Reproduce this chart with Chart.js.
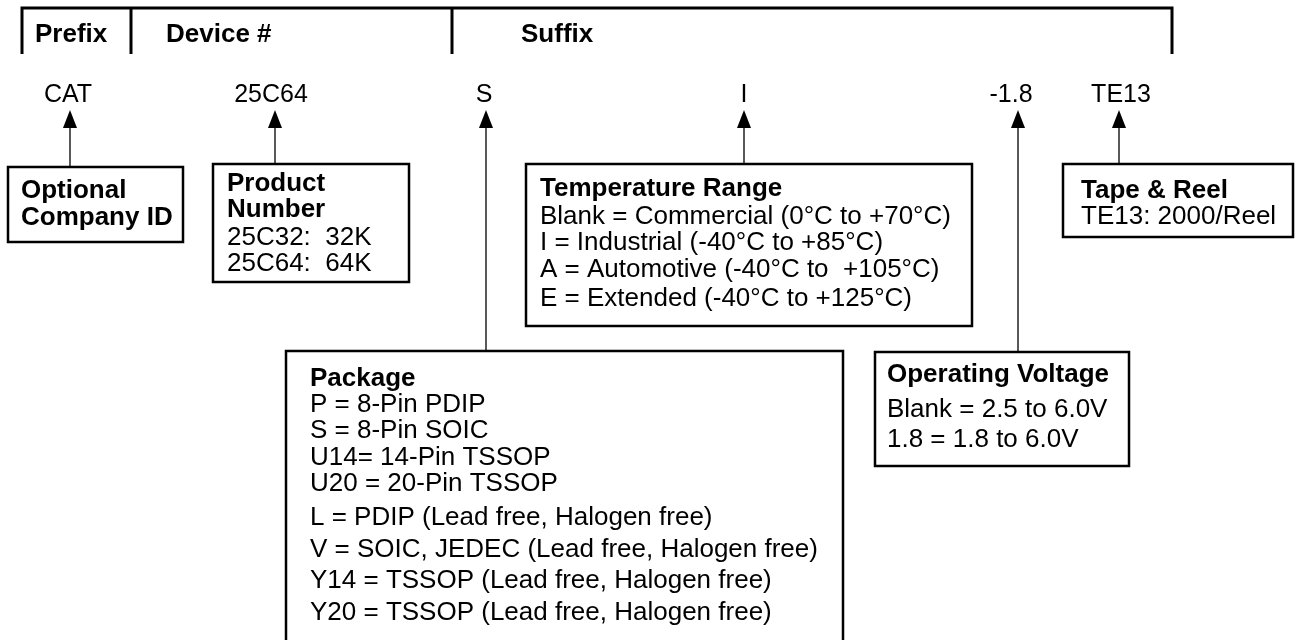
<!DOCTYPE html>
<html><head><meta charset="utf-8">
<script src="https://cdn.jsdelivr.net/npm/chart.js@4.4.1/dist/chart.umd.min.js"></script>
<style>html,body{margin:0;padding:0;background:#fff}#wrap{width:1297px;height:640px}</style>
</head><body><div id="wrap"><canvas id="c" width="1297" height="640"></canvas></div>
<script>
// ---- data (text content) ----
const headerLabels = ['Prefix', 'Device #', 'Suffix'];
const codeLabels = ['CAT', '25C64', 'S', 'I', '-1.8', 'TE13'];
const boxTitles = [
  ['Optional', 'Company ID'],
  ['Product', 'Number'],
  ['Temperature Range'],
  ['Tape & Reel'],
  ['Package'],
  ['Operating Voltage']
];
const boxLines = [
  [],
  ['25C32:  32K', '25C64:  64K'],
  ['Blank = Commercial (0°C to +70°C)', 'I = Industrial (-40°C to +85°C)', 'A = Automotive (-40°C to  +105°C)', 'E = Extended (-40°C to +125°C)'],
  ['TE13: 2000/Reel'],
  ['P = 8-Pin PDIP', 'S = 8-Pin SOIC', 'U14= 14-Pin TSSOP', 'U20 = 20-Pin TSSOP', 'L = PDIP (Lead free, Halogen free)', 'V = SOIC, JEDEC (Lead free, Halogen free)', 'Y14 = TSSOP (Lead free, Halogen free)', 'Y20 = TSSOP (Lead free, Halogen free)'],
  ['Blank = 2.5 to 6.0V', '1.8 = 1.8 to 6.0V']
];

// ---- layout (diagram coordinates) ----
const headerLabelX = [35, 166, 521];
const headerDividerX = [22, 131, 452, 1172];
const codeLabelX = [68, 271, 484, 744, 1011, 1121];
const arrowX = [70, 275, 486, 744, 1018, 1119];
const arrowEndY = [167, 164, 351, 164, 352, 164];
const boxRect = [
  [8, 167, 183, 242],
  [213, 164, 409, 282],
  [526, 164, 972, 326],
  [1063, 164, 1293, 237],
  [286, 351, 843, 660],
  [875, 352, 1129, 466]
];
const boxTextX = [21, 227, 540, 1081, 310, 887];
const boxTitleY = [[198, 225], [191, 217], [196], [198], [386], [382]];
const boxLineY = [
  [],
  [245, 271],
  [224, 250, 277, 306],
  [224],
  [412, 438, 465, 491, 525, 557, 588, 620],
  [417, 447]
];

// ---- datasets: header frame and arrow shafts ----
const datasets = [];
datasets.push({data: [{x: headerDividerX[0], y: 54}, {x: headerDividerX[0], y: 8}, {x: headerDividerX[3], y: 8}, {x: headerDividerX[3], y: 54}], borderColor: '#000', borderWidth: 3, pointRadius: 0, showLine: true, tension: 0});
[1, 2].forEach(i => datasets.push({data: [{x: headerDividerX[i], y: 8}, {x: headerDividerX[i], y: 54}], borderColor: '#000', borderWidth: 3, pointRadius: 0, showLine: true}));
arrowX.forEach((x, i) => datasets.push({data: [{x: x, y: 125}, {x: x, y: arrowEndY[i]}], borderColor: '#000', borderWidth: 1.3, pointRadius: 0, showLine: true}));

const FONT = '"Liberation Sans", Arial, Helvetica, sans-serif';
const drawPlugin = {
  id: 'diagram',
  afterDatasetsDraw(chart) {
    const ctx = chart.ctx, xs = chart.scales.x, ys = chart.scales.y;
    const px = v => xs.getPixelForValue(v), py = v => ys.getPixelForValue(v);
    ctx.save();
    ctx.fillStyle = '#000';
    ctx.textBaseline = 'alphabetic';
    ctx.textAlign = 'left';
    ctx.font = 'bold 26px ' + FONT;
    headerLabels.forEach((t, i) => ctx.fillText(t, px(headerLabelX[i]), py(42)));
    ctx.font = '25px ' + FONT;
    ctx.textAlign = 'center';
    codeLabels.forEach((t, i) => ctx.fillText(t, px(codeLabelX[i]), py(102)));
    arrowX.forEach(x => {
      ctx.beginPath();
      ctx.moveTo(px(x), py(110));
      ctx.lineTo(px(x) - 7, py(128));
      ctx.lineTo(px(x) + 7, py(128));
      ctx.closePath();
      ctx.fill();
    });
    ctx.textAlign = 'left';
    boxRect.forEach((r, i) => {
      ctx.lineWidth = 2.5;
      ctx.strokeStyle = '#000';
      ctx.strokeRect(px(r[0]), py(r[1]), px(r[2]) - px(r[0]), py(r[3]) - py(r[1]));
      ctx.font = 'bold 26px ' + FONT;
      boxTitles[i].forEach((t, j) => ctx.fillText(t, px(boxTextX[i]), py(boxTitleY[i][j])));
      ctx.font = '26px ' + FONT;
      boxLines[i].forEach((t, j) => ctx.fillText(t, px(boxTextX[i]), py(boxLineY[i][j])));
    });
    ctx.restore();
  }
};

new Chart(document.getElementById('c'), {
  type: 'scatter',
  data: {datasets},
  options: {
    responsive: false,
    animation: false,
    devicePixelRatio: 1,
    layout: {padding: 0},
    plugins: {legend: {display: false}, tooltip: {enabled: false}},
    scales: {
      x: {type: 'linear', min: 0, max: 1297, display: false},
      y: {type: 'linear', min: 0, max: 640, reverse: true, display: false}
    }
  },
  plugins: [drawPlugin]
});
</script></body></html>
